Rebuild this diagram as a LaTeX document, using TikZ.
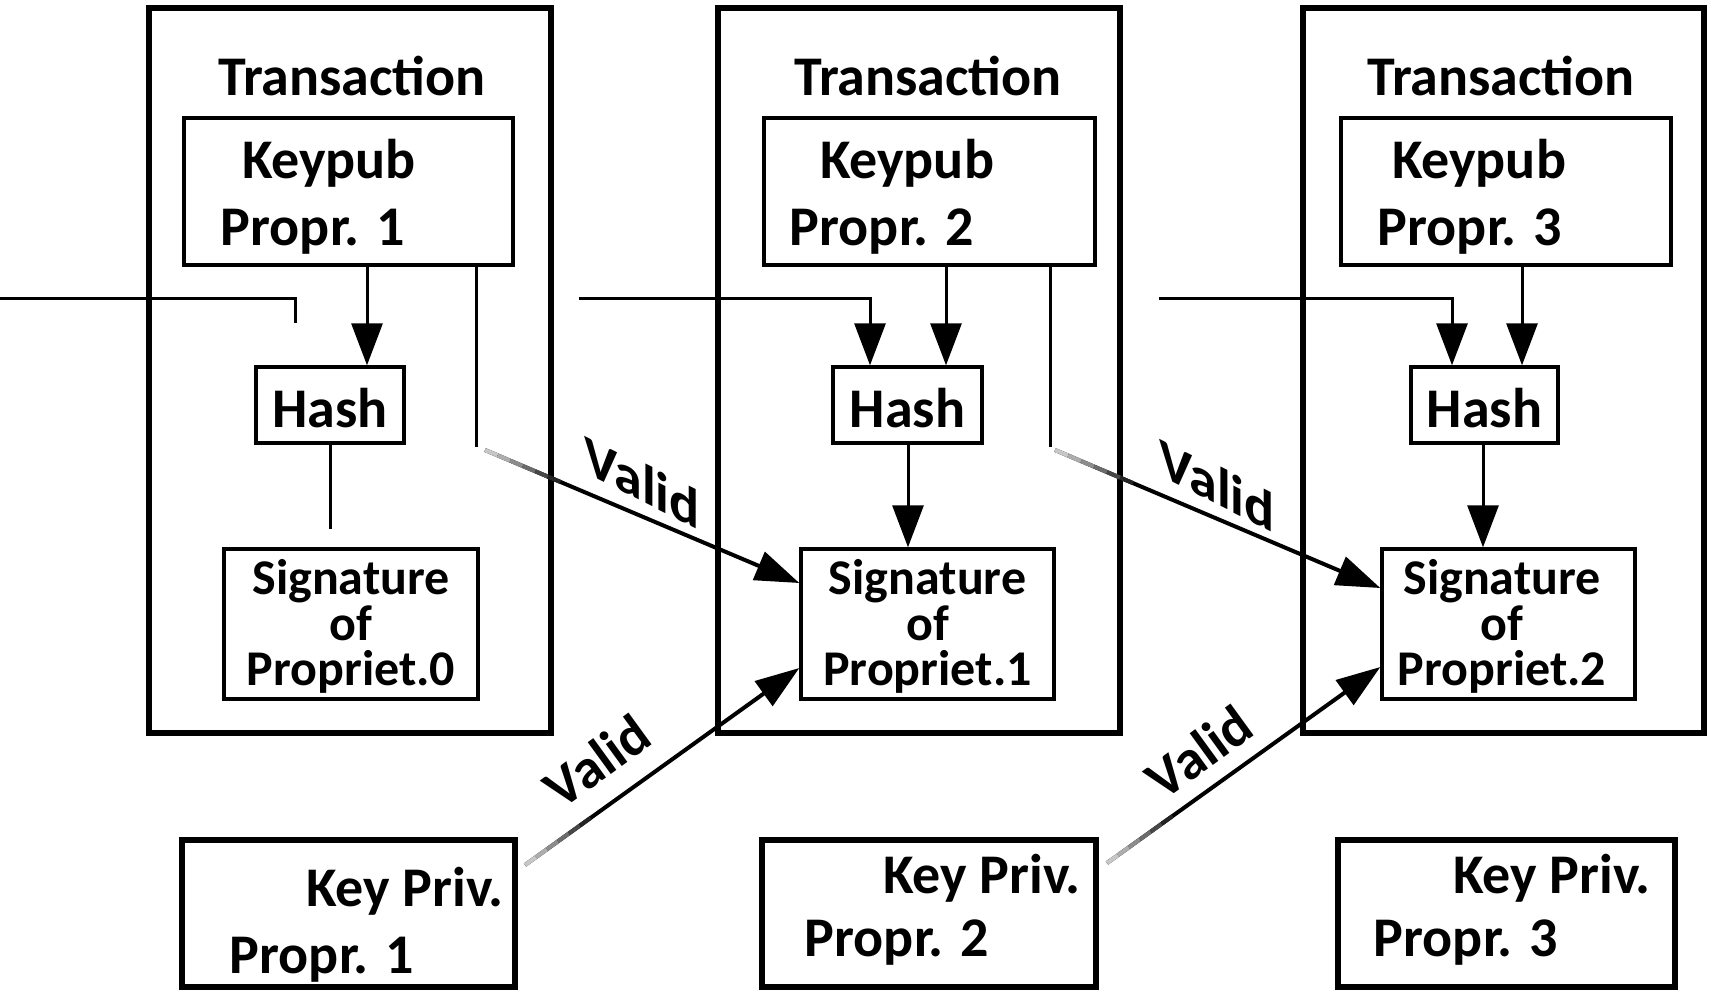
\documentclass[tikz,border=0pt]{standalone}
\usepackage{fontspec}
\setmainfont{Carlito}
\usetikzlibrary{arrows.meta,fit,calc}
\begin{document}
\begin{tikzpicture}[x=0.5pt,y=-0.5pt,
  font=\bfseries\fontsize{28}{34}\selectfont,
  obox/.style={draw,line width=2.75pt,inner sep=0pt},
  ibox/.style={draw,line width=1.7pt,inner sep=0pt},
  pbox/.style={draw,line width=2.6pt,inner sep=0pt},
  lbl/.style={inner sep=0pt,anchor=base},
  siglbl/.style={inner sep=0pt,anchor=base,font=\bfseries\fontsize{25}{30}\selectfont},
  conn/.style={line width=1.5pt},
  harrow/.style={conn,-{Triangle[length=21pt,width=15.5pt]}},
  varrow/.style={line width=2pt,-{Triangle[length=22pt,width=15pt]}},
  vlbl/.style={inner sep=0pt,font=\bfseries\fontsize{28}{34}\selectfont}
]
\useasboundingbox[fill=white] (0,0) rectangle (1713,993);

% outer transaction boxes
\node[obox,fit={(149,8) (551,733)}] (ob1) {};
\node[obox,fit={(718,8) (1120,733)}] (ob2) {};
\node[obox,fit={(1303,8) (1704,733)}] (ob3) {};

% Keypub boxes
\node[ibox,fit={(184,118) (513,265)}] (kp1) {};
\node[ibox,fit={(764,118) (1095,265)}] (kp2) {};
\node[ibox,fit={(1341,118) (1671,265)}] (kp3) {};

% Hash boxes
\node[ibox,fit={(256,367) (404,443)}] (h1) {};
\node[ibox,fit={(833,367) (982,443)}] (h2) {};
\node[ibox,fit={(1411,367) (1558,443)}] (h3) {};

% Signature boxes
\node[ibox,fit={(224,549) (478,699)}] (sg0) {};
\node[ibox,fit={(801,549) (1054,699)}] (sg1) {};
\node[ibox,fit={(1382,549) (1635,699)}] (sg2) {};

% Key Priv boxes
\node[pbox,fit={(182,840) (515,987)}] (kv1) {};
\node[pbox,fit={(762,840) (1096,987)}] (kv2) {};
\node[pbox,fit={(1338,840) (1675,987)}] (kv3) {};

% texts
\node[lbl] (t1) at (352,95) {Transaction};
\node[lbl] (t2) at (928,95) {Transaction};
\node[lbl] (t3) at (1501,95) {Transaction};
\node[lbl] (kpa1) at (329,178) {Keypub};
\node[lbl] (kpa2) at (907,178) {Keypub};
\node[lbl] (kpa3) at (1479,178) {Keypub};
\node[lbl] (kpb1) at (313,245) {Propr. 1};
\node[lbl] (kpb2) at (882,245) {Propr. 2};
\node[lbl] (kpb3) at (1470,245) {Propr. 3};
\node[lbl] (ht1) at (330,427) {Hash};
\node[lbl] (ht2) at (907.5,427) {Hash};
\node[lbl] (ht3) at (1484.5,427) {Hash};
\node[siglbl] (sa0) at (351,594) {Signature};
\node[siglbl] (sb0) at (351,640) {of};
\node[siglbl] (sc0) at (351,685) {Propriet.0};
\node[siglbl] (sa1) at (927.5,594) {Signature};
\node[siglbl] (sb1) at (927.5,640) {of};
\node[siglbl] (sc1) at (927.5,685) {Propriet.1};
\node[siglbl] (sa2) at (1502,594) {Signature};
\node[siglbl] (sb2) at (1502,640) {of};
\node[siglbl] (sc2) at (1502,685) {Propriet.2};
\node[lbl] (kva1) at (405,906) {Key Priv.};
\node[lbl] (kva2) at (982,893) {Key Priv.};
\node[lbl] (kva3) at (1552,893) {Key Priv.};
\node[lbl] (kvb1) at (322,973) {Propr. 1};
\node[lbl] (kvb2) at (897,956) {Propr. 2};
\node[lbl] (kvb3) at (1466,956) {Propr. 3};

% column coordinates
\coordinate (x1a) at (367,0);
\coordinate (x1v) at (476,0);
\coordinate (x1h) at (330,0);
\coordinate (x2f) at (870,0);
\coordinate (x2a) at (946,0);
\coordinate (x2v) at (1050,0);
\coordinate (x2h) at (908,0);
\coordinate (x3f) at (1452,0);
\coordinate (x3a) at (1522,0);
\coordinate (x3h) at (1483,0);

% free ends
\coordinate (f1) at (0,298);
\coordinate (f1b) at (295,298);
\coordinate (f1c) at (295,323);
\coordinate (f2) at (579,298);
\coordinate (f3) at (1159,298);
\coordinate (e1) at (330,529);
\coordinate (v1) at (476,447);
\coordinate (v2) at (1050,447);
\coordinate (s1) at (485,450);
\coordinate (s2) at (1055,450);
\coordinate (l1) at (525,865);
\coordinate (l2) at (1107,863);

% box 1 connectors
\draw[conn] (f1) -- (f1b) -- (f1c);
\draw[harrow] (kp1.south -| x1a) -- (h1.north -| x1a);
\draw[conn] (h1.south -| x1h) -- (e1);
\draw[conn] (kp1.south -| x1v) -- (v1);

% box 2 connectors
\draw[harrow] (f2) -| (h2.north -| x2f);
\draw[harrow] (kp2.south -| x2a) -- (h2.north -| x2a);
\draw[harrow] (h2.south -| x2h) -- (sg1.north -| x2h);
\draw[conn] (kp2.south -| x2v) -- (v2);

% box 3 connectors
\draw[harrow] (f3) -| (h3.north -| x3f);
\draw[harrow] (kp3.south -| x3a) -- (h3.north -| x3a);
\draw[harrow] (h3.south -| x3h) -- (sg2.north -| x3h);

% Valid arrows
\coordinate (u1) at ([yshift=20.5pt]sg1.west);
\coordinate (d1) at ([yshift=-22pt]sg1.west);
\coordinate (u2) at ([yshift=18pt]sg2.west);
\coordinate (d2) at ([yshift=-21.5pt]sg2.west);
\draw[varrow] (s1) -- ([yshift=20.5pt]sg1.west);
\draw[varrow] (l1) -- ([yshift=-22pt]sg1.west);
\draw[varrow] (s2) -- ([yshift=18pt]sg2.west);
\draw[varrow] (l2) -- ([yshift=-21.5pt]sg2.west);
% faded starts
\foreach \p/\q in {s1/u1,l1/d1,s2/u2,l2/d2}{
  \foreach \a/\b/\c in {0/0.04/22,0.04/0.08/32,0.08/0.12/45,0.12/0.16/58,0.16/0.20/72,0.20/0.24/86}
    \draw[line width=2.05pt,black!\c] ($(\p)!\a!(\q)$) -- ($(\p)!\b!(\q)$);
}

\node[vlbl,yslant=-0.5,transform shape] (va1) at (642,482) {Valid};
\node[vlbl,yslant=-0.5,transform shape] (va2) at (1217,485) {Valid};
\node[vlbl,rotate=36] (vb1) at (597,761) {Valid};
\node[vlbl,rotate=36] (vb2) at (1199,752) {Valid};
\end{tikzpicture}
\end{document}
